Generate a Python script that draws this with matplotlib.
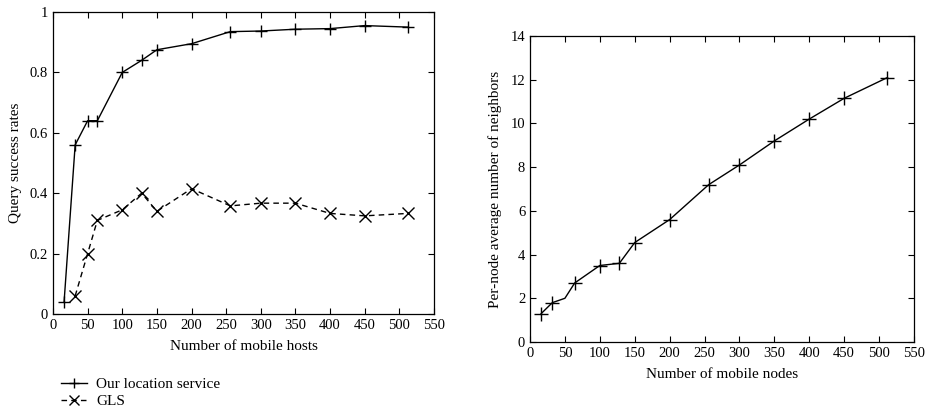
import matplotlib
matplotlib.use("Agg")
import matplotlib.pyplot as plt

plt.rcParams['font.family'] = ['Liberation Serif', 'DejaVu Serif']

hosts = [16, 32, 50, 64, 100, 128, 150, 200, 256, 300, 350, 400, 450, 512]
ours = [0.04, 0.56, 0.64, 0.64, 0.80, 0.84, 0.875, 0.895, 0.935, 0.937, 0.943, 0.945, 0.955, 0.95]
gls_x = [32, 50, 64, 100, 128, 150, 200, 256, 300, 350, 400, 450, 512]
gls = [0.06, 0.20, 0.31, 0.345, 0.40, 0.34, 0.415, 0.358, 0.367, 0.367, 0.333, 0.325, 0.333]

nodes = [16, 32, 50, 64, 100, 128, 150, 200, 256, 300, 350, 400, 450, 512]
neighbors = [1.3, 1.8, 2.0, 2.7, 3.5, 3.6, 4.55, 5.6, 7.2, 8.1, 9.2, 10.2, 11.15, 12.1]
neighbor_marked = [0, 1, 3, 4, 5, 6, 7, 8, 9, 10, 11, 12, 13]

xticks = [0, 50, 100, 150, 200, 250, 300, 350, 400, 450, 500, 550]

W, H = 931, 412
fig = plt.figure(figsize=(W / 100, H / 100), dpi=100)

def ax_at(x0, y0, x1, y1):
    return fig.add_axes([x0 / W, 1 - y1 / H, (x1 - x0) / W, (y1 - y0) / H])

ax1 = ax_at(53, 12, 434, 314)
ax2 = ax_at(530, 36, 914, 342)

fs = 10.5
for ax in (ax1, ax2):
    ax.tick_params(direction='in', top=True, right=True, labelsize=fs, length=4, width=0.8)
    for s in ax.spines.values():
        s.set_linewidth(0.9)
    ax.set_xlim(0, 550)
    ax.set_xticks(xticks)

l1, = ax1.plot(hosts, ours, color='black', lw=1.0, marker='+', ms=9, mew=1.0,
               label='Our location service')
l2, = ax1.plot(gls_x, gls, color='black', lw=1.0, ls=(0, (4, 3)), marker='x', ms=8, mew=1.0,
               label='GLS')
ax1.set_ylim(0, 1)
ax1.set_yticks([0, 0.2, 0.4, 0.6, 0.8, 1])
ax1.set_yticklabels(['0', '0.2', '0.4', '0.6', '0.8', '1'])
ax1.set_xlabel('Number of mobile hosts', fontsize=fs + 0.5, labelpad=6)
ax1.set_ylabel('Query success rates', fontsize=fs + 0.5, labelpad=6)

ax2.plot(nodes, neighbors, color='black', lw=1.0, marker='+', ms=10, mew=1.0,
         markevery=neighbor_marked)
ax2.set_ylim(0, 14)
ax2.set_yticks([0, 2, 4, 6, 8, 10, 12, 14])
ax2.set_xlabel('Number of mobile nodes', fontsize=fs + 0.5, labelpad=6)
ax2.set_ylabel('Per-node average number of neighbors', fontsize=fs + 0.5, labelpad=6)

fig.legend(handles=[l1, l2], loc='upper left', bbox_to_anchor=(47 / W, 1 - 364 / H),
           frameon=False, fontsize=fs + 0.5, handlelength=1.7, handletextpad=0.6,
           labelspacing=0.2, borderpad=0.4, markerscale=0.85)

fig.savefig('out.png', dpi=100)
